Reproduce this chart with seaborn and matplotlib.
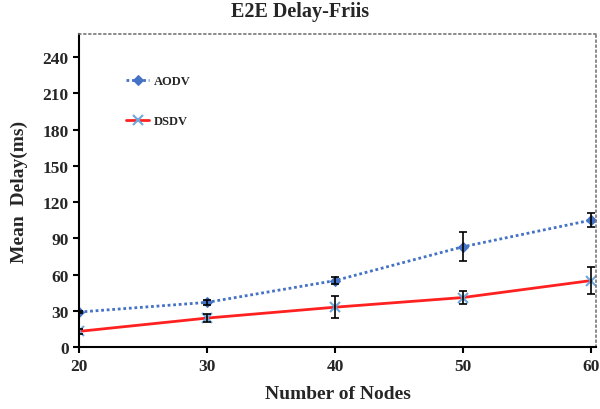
import matplotlib
matplotlib.use("Agg")
import matplotlib.pyplot as plt
import seaborn as sns
import pandas as pd

nodes = [20, 30, 40, 50, 60]
aodv = [29, 37, 55, 83, 105]
aodv_err = [1, 2, 3, 12, 6]
dsdv = [13, 24, 33, 41, 55]
dsdv_err = [2, 3, 9, 5, 11]
yticks = [0, 30, 60, 90, 120, 150, 180, 210, 240]
xticks = [20, 30, 40, 50, 60]

sns.set_theme(style="white")
plt.rcParams['font.family'] = ['Liberation Serif', 'DejaVu Serif']

df = pd.DataFrame({
    "Nodes": nodes * 2,
    "Delay": aodv + dsdv,
    "Protocol": ["AODV"] * 5 + ["DSDV"] * 5,
})

fig = plt.figure(figsize=(6, 4.1), dpi=100)
ax = fig.add_axes([0.1317, 0.151, 0.8616, 0.7636])

sns.lineplot(data=df[df.Protocol == "AODV"], x="Nodes", y="Delay", ax=ax,
             color="#4472C4", linestyle=(0, (1, 1)), linewidth=2,
             marker="D", markersize=5, markeredgecolor="#4472C4", label="AODV")
sns.lineplot(data=df[df.Protocol == "DSDV"], x="Nodes", y="Delay", ax=ax,
             color="#FF2020", linewidth=2,
             marker="x", markersize=7, markeredgecolor="#6FA8DC", markeredgewidth=1.5,
             label="DSDV")
ax.errorbar(nodes, aodv, yerr=aodv_err, fmt="none", ecolor="black", elinewidth=1.2, capsize=3, capthick=1.2)
ax.errorbar(nodes, dsdv, yerr=dsdv_err, fmt="none", ecolor="black", elinewidth=1.2, capsize=3, capthick=1.2)

ax.set_xlim(20, 60.4)
ax.set_ylim(0, 259)
ax.set_xticks(xticks)
ax.set_yticks(yticks)
ax.tick_params(axis="both", direction="out", length=4, width=1.5, color="black",
               labelsize=12.5, bottom=True, left=True)
for lbl in ax.get_xticklabels() + ax.get_yticklabels():
    lbl.set_fontweight("bold")

for s in ["left", "bottom"]:
    ax.spines[s].set_color("black")
    ax.spines[s].set_linewidth(1.5)
for s in ["top", "right"]:
    ax.spines[s].set_color("#777777")
    ax.spines[s].set_linewidth(1.2)
    ax.spines[s].set_linestyle((0, (1, 2)))

ax.set_xlabel("Number of Nodes", fontsize=14, fontweight="bold", labelpad=8)
ax.set_ylabel("Mean  Delay(ms)", fontsize=14, fontweight="bold", labelpad=10)
fig.suptitle("E2E Delay-Friis", fontsize=14.5, fontweight="bold", y=0.995)

leg = ax.legend(loc="upper left", bbox_to_anchor=(0.07, 0.905), frameon=False,
                labelspacing=2.25, handlelength=1.8, handletextpad=0.4,
                prop={"weight": "bold", "size": 9})

fig.savefig("out.png", dpi=100)
